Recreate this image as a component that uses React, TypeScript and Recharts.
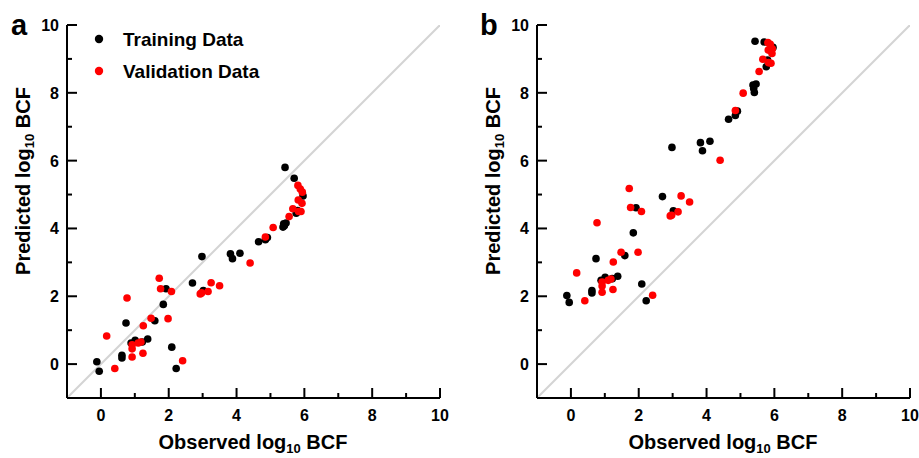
import React from "react";
import {
  ScatterChart,
  Scatter,
  XAxis,
  YAxis,
  ReferenceLine,
} from "recharts";

// observed log10 BCF (shared by both panels)
const observedTraining = [
  -0.12, -0.05, 0.62, 0.62, 0.74, 0.89, 1.01, 1.22, 1.38, 1.59, 1.84, 1.92,
  2.09, 2.22, 2.7, 2.98, 3.02, 3.82, 3.88, 4.1, 4.65, 4.85, 4.91, 5.37, 5.39,
  5.41, 5.43, 5.46, 5.7, 5.76, 5.8, 5.96,
];
// panel a predictions
const predictedTrainingA = [
  0.07, -0.21, 0.26, 0.18, 1.21, 0.62, 0.7, 0.65, 0.74, 1.28, 1.76, 2.22,
  0.5, -0.13, 2.39, 3.17, 2.17, 3.25, 3.11, 3.27, 3.61, 3.67, 3.73, 4.04,
  4.14, 4.08, 5.8, 4.16, 5.48, 4.45, 4.53, 4.96,
];
// panel b predictions
const predictedTrainingB = [
  2.02, 1.82, 2.17, 2.1, 3.11, 2.47, 2.56, 2.52, 2.59, 3.2, 3.87, 4.61, 2.36,
  1.87, 4.94, 6.39, 4.52, 6.53, 6.29, 6.57, 7.22, 7.33, 7.46, 8.23, 8.13,
  8.01, 9.52, 8.26, 9.5, 8.77, 8.97, 9.34,
];

const observedValidation = [
  0.17, 0.41, 0.77, 0.92, 0.92, 0.92, 1.1, 1.18, 1.24, 1.25, 1.48, 1.72,
  1.76, 1.98, 2.08, 2.41, 2.93, 2.97, 3.16, 3.25, 3.5, 4.4, 4.85, 5.08, 5.55,
  5.66, 5.81, 5.88, 5.94, 5.82, 5.93, 5.83, 5.9,
];
const predictedValidationA = [
  0.83, -0.13, 1.95, 0.57, 0.45, 0.21, 0.62, 0.65, 0.32, 1.13, 1.35, 2.53,
  2.22, 1.34, 2.14, 0.1, 2.07, 2.1, 2.14, 2.4, 2.31, 2.98, 3.75, 4.03, 4.35,
  4.58, 5.27, 5.16, 5.07, 4.84, 4.74, 4.5, 4.5,
];
const predictedValidationB = [
  2.69, 1.87, 4.17, 2.42, 2.3, 2.12, 2.47, 2.51, 2.2, 3.01, 3.3, 5.18, 4.62,
  3.3, 4.5, 2.03, 4.37, 4.39, 4.49, 4.96, 4.78, 6.01, 7.48, 7.99, 8.63, 8.99,
  9.48, 9.43, 9.3, 9.26, 9.16, 8.89, 8.87,
];

const axisTicks = [0, 1, 2, 3, 4, 5, 6, 7, 8, 9, 10];

const font = '"Liberation Sans", Arial, Helvetica, sans-serif';

const pairs = (xs: number[], ys: number[]) =>
  xs.map((x, i) => ({ x, y: ys[i] }));

const XTick = (props: any) => {
  const { x, y, payload } = props;
  const v = payload.value;
  const major = v % 2 === 0;
  return (
    <g>
      <line x1={x} x2={x} y1={y} y2={y - (major ? 10 : 5)} stroke="#000" strokeWidth={2} />
      {major && (
        <text x={x} y={y + 23} textAnchor="middle" fontFamily={font} fontWeight="bold" fontSize={16} fill="#000">
          {v}
        </text>
      )}
    </g>
  );
};

const YTick = (props: any) => {
  const { x, y, payload } = props;
  const v = payload.value;
  const major = v % 2 === 0;
  return (
    <g>
      <line x1={x} x2={x + (major ? 10 : 5)} y1={y} y2={y} stroke="#000" strokeWidth={2} />
      {major && (
        <text x={x - 8} y={y + 6} textAnchor="end" fontFamily={font} fontWeight="bold" fontSize={16} fill="#000">
          {v}
        </text>
      )}
    </g>
  );
};

const Dot = (color: string) => (p: any) =>
  <circle cx={p.cx} cy={p.cy} r={3.8} fill={color} />;

function Panel({
  training,
  validation,
  marginLeft,
  marginRight,
  width,
}: {
  training: { x: number; y: number }[];
  validation: { x: number; y: number }[];
  marginLeft: number;
  marginRight: number;
  width: number;
}) {
  return (
    <ScatterChart
      width={width}
      height={458}
      margin={{ top: 25, right: marginRight, bottom: 0, left: marginLeft }}
    >
      <XAxis
        type="number"
        dataKey="x"
        domain={[-1, 10]}
        ticks={axisTicks}
        interval={0}
        allowDataOverflow
        tickSize={0}
        tickMargin={0}
        tickLine={false}
        axisLine={{ stroke: "#000", strokeWidth: 2 }}
        tick={(p: any) => <XTick {...p} />}
        height={60}
      />
      <YAxis
        type="number"
        dataKey="y"
        domain={[-1, 10]}
        ticks={axisTicks}
        interval={0}
        allowDataOverflow
        tickSize={0}
        tickMargin={0}
        tickLine={false}
        axisLine={{ stroke: "#000", strokeWidth: 2 }}
        tick={(p: any) => <YTick {...p} />}
        width={50}
      />
      <ReferenceLine
        segment={[
          { x: -1, y: -1 },
          { x: 10, y: 10 },
        ]}
        stroke="#d4d4d4"
        strokeWidth={2}
        ifOverflow="hidden"
      />
      <Scatter data={training} shape={Dot("#000000")} isAnimationActive={false} />
      <Scatter data={validation} shape={Dot("#ff0000")} isAnimationActive={false} />
    </ScatterChart>
  );
}

const AxisTitle = ({ first }: { first: string }) => (
  <>
    {first} log
    <tspan fontSize={13} dy={4}>10</tspan>
    <tspan dy={-4}> BCF</tspan>
  </>
);

export default function App() {
  return (
    <div
      style={{
        position: "absolute",
        left: 0,
        top: 0,
        width: 919,
        height: 458,
        background: "#fff",
        fontFamily: font,
      }}
    >
      <div style={{ position: "absolute", left: 0, top: 0 }}>
        <Panel
          training={pairs(observedTraining, predictedTrainingA)}
          validation={pairs(observedValidation, predictedValidationA)}
          marginLeft={17}
          marginRight={20}
          width={460}
        />
      </div>
      <div style={{ position: "absolute", left: 460, top: 0 }}>
        <Panel
          training={pairs(observedTraining, predictedTrainingB)}
          validation={pairs(observedValidation, predictedValidationB)}
          marginLeft={27}
          marginRight={9}
          width={459}
        />
      </div>
      <svg
        width={919}
        height={458}
        style={{ position: "absolute", left: 0, top: 0, pointerEvents: "none" }}
        fontFamily={font}
        fontWeight="bold"
        fill="#000"
      >
        <text x={11} y={35} fontSize={29}>a</text>
        <text x={480} y={35} fontSize={29}>b</text>

        <circle cx={99} cy={39} r={4.2} fill="#000" />
        <text x={123} y={46} fontSize={19}>Training Data</text>
        <circle cx={99} cy={71} r={4.2} fill="#ff0000" />
        <text x={123} y={78} fontSize={19}>Validation Data</text>

        <text x={253} y={449} fontSize={20} textAnchor="middle">
          <AxisTitle first="Observed" />
        </text>
        <text x={723} y={449} fontSize={20} textAnchor="middle">
          <AxisTitle first="Observed" />
        </text>
        <text transform="translate(30,181) rotate(-90)" fontSize={20} textAnchor="middle">
          <AxisTitle first="Predicted" />
        </text>
        <text transform="translate(500,181) rotate(-90)" fontSize={20} textAnchor="middle">
          <AxisTitle first="Predicted" />
        </text>
      </svg>
    </div>
  );
}
